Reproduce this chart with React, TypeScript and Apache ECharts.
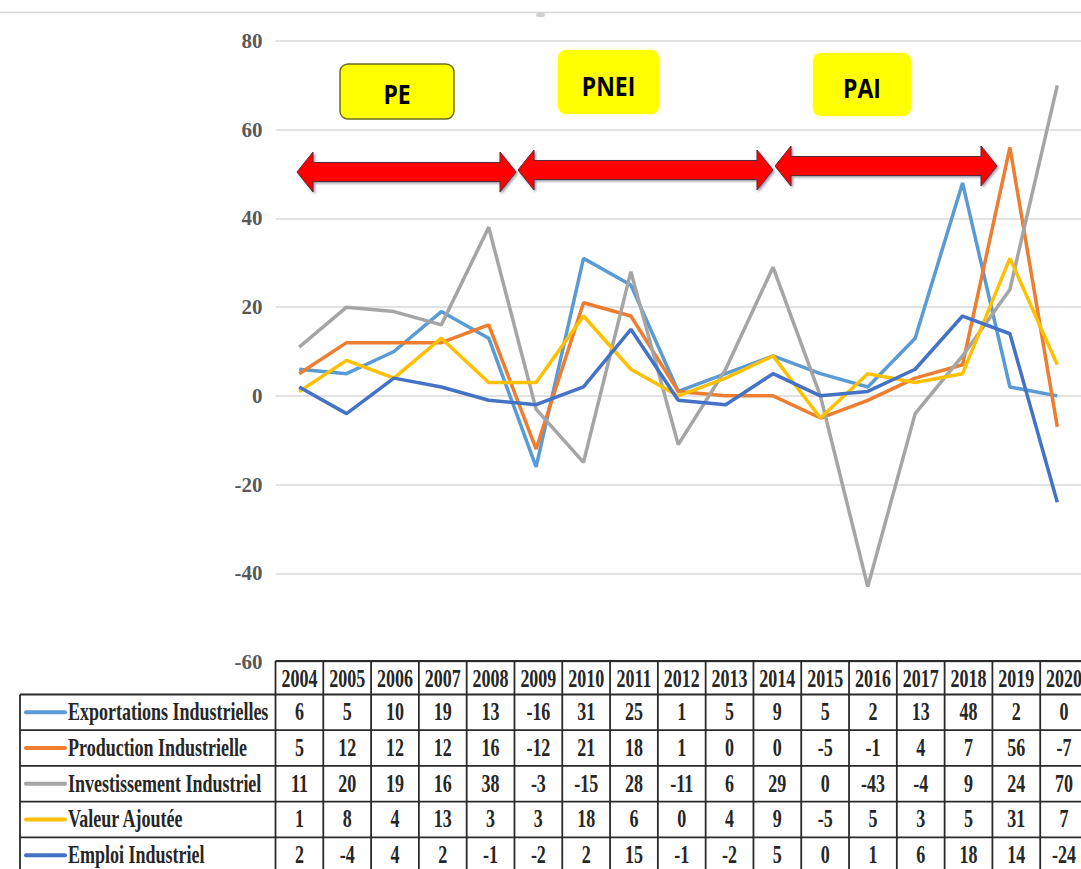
import React, { useEffect, useRef } from "react";
import * as echarts from "echarts";

const years = ["2004", "2005", "2006", "2007", "2008", "2009", "2010", "2011", "2012", "2013", "2014", "2015", "2016", "2017", "2018", "2019", "2020"];
const exportations = [6, 5, 10, 19, 13, -16, 31, 25, 1, 5, 9, 5, 2, 13, 48, 2, 0];
const production = [5, 12, 12, 12, 16, -12, 21, 18, 1, 0, 0, -5, -1, 4, 7, 56, -7];
const investissement = [11, 20, 19, 16, 38, -3, -15, 28, -11, 6, 29, 0, -43, -4, 9, 24, 70];
const valeur = [1, 8, 4, 13, 3, 3, 18, 6, 0, 4, 9, -5, 5, 3, 5, 31, 7];
const emploi = [2, -4, 4, 2, -1, -2, 2, 15, -1, -2, 5, 0, 1, 6, 18, 14, -24];
const seriesNames = ["Exportations Industrielles", "Production Industrielle", "Investissement Industriel", "Valeur Ajoutée", "Emploi Industriel"];
const seriesValues = [exportations, production, investissement, valeur, emploi];
const colors = ["#5B9BD5", "#ED7D31", "#A5A5A5", "#FFC000", "#4472C4"];
const yMin = -60;
const yMax = 80;
const yStep = 20;
const periods = ["PE", "PNEI", "PAI"];

const W = 1081;
const H = 869;
const gridLeft = 275.5;
const gridRight = -7;
const gridTop = 41;
const gridBottom = H - 662;
const colW = (W - gridRight - gridLeft) / years.length;
const tableTop = 661;
const headerH = 33.5;
const rowH = 35.7;
const tableLeft = 20;
const tableRight = gridLeft + colW * years.length;
const tableBottom = tableTop + headerH + seriesNames.length * rowH;

const serifFont = "'Liberation Serif', 'Times New Roman', serif";
const textFill = "#262626";
const borderColor = "#2a2a2a";

function arrowPoints(x1: number, x2: number, yc: number, shaftH: number, headH: number, headL: number) {
  return [
    [x1, yc],
    [x1 + headL, yc - headH / 2],
    [x1 + headL, yc - shaftH / 2],
    [x2 - headL, yc - shaftH / 2],
    [x2 - headL, yc - headH / 2],
    [x2, yc],
    [x2 - headL, yc + headH / 2],
    [x2 - headL, yc + shaftH / 2],
    [x1 + headL, yc + shaftH / 2],
    [x1 + headL, yc + headH / 2],
  ];
}

function tableText(text: string, x: number, y: number, align: string) {
  return {
    type: "text",
    x,
    y,
    scaleX: 0.72,
    z: 20,
    style: {
      text,
      fill: textFill,
      fontFamily: serifFont,
      fontWeight: "bold",
      fontSize: 25,
      align,
      textAlign: align,
      verticalAlign: "middle",
      textVerticalAlign: "middle",
    },
  };
}

function buildGraphics() {
  const g: any[] = [];
  // top border line
  g.push({ type: "line", shape: { x1: 0, y1: 12.5, x2: W, y2: 12.5 }, style: { stroke: "#d6d6d6", lineWidth: 1.5 }, silent: true });
  g.push({ type: "rect", shape: { x: 536, y: 13, width: 9, height: 4, r: 2 }, style: { fill: "#d0d0d0" }, silent: true });

  // table lines
  const lineStyle = { stroke: borderColor, lineWidth: 1.8 };
  g.push({ type: "line", shape: { x1: gridLeft, y1: tableTop, x2: tableRight, y2: tableTop }, style: lineStyle, z: 15 });
  for (let i = 0; i <= seriesNames.length; i++) {
    const y = tableTop + headerH + i * rowH;
    g.push({ type: "line", shape: { x1: tableLeft, y1: y, x2: tableRight, y2: y }, style: lineStyle, z: 15 });
  }
  g.push({ type: "line", shape: { x1: tableLeft, y1: tableTop + headerH, x2: tableLeft, y2: tableBottom }, style: lineStyle, z: 15 });
  for (let k = 0; k <= years.length; k++) {
    const x = gridLeft + k * colW;
    g.push({ type: "line", shape: { x1: x, y1: tableTop, x2: x, y2: tableBottom }, style: lineStyle, z: 15 });
  }
  // header
  years.forEach((yr, k) => {
    g.push(tableText(yr, gridLeft + (k + 0.5) * colW, tableTop + headerH / 2 + 1, "center"));
  });
  // rows
  seriesNames.forEach((name, i) => {
    const yc = tableTop + headerH + (i + 0.5) * rowH;
    g.push({ type: "line", shape: { x1: 26, y1: yc, x2: 65, y2: yc }, style: { stroke: colors[i], lineWidth: 4, lineCap: "round" }, z: 20 });
    g.push(tableText(name, 68, yc, "left"));
    seriesValues[i].forEach((v, k) => {
      g.push(tableText(String(v), gridLeft + (k + 0.5) * colW, yc, "center"));
    });
  });

  // arrows
  const arrows = [
    [297, 516, 172],
    [518, 773, 170],
    [775, 997, 166],
  ];
  arrows.forEach(([x1, x2, yc]) => {
    g.push({
      type: "polygon",
      shape: { points: arrowPoints(x1, x2, yc, 19, 40, 16) },
      style: { fill: "#FF0000", stroke: "#5a2a3a", lineWidth: 1, shadowColor: "rgba(60,60,90,0.55)", shadowBlur: 2, shadowOffsetX: 1.5, shadowOffsetY: 1.5 },
      z: 10,
    });
  });

  // period boxes
  const boxes = [
    { x: 340, y: 64, w: 114, h: 55, stroke: "#6b6b22", ty: 93 },
    { x: 558, y: 50, w: 101, h: 64, stroke: null, ty: 85 },
    { x: 813, y: 53, w: 98, h: 63, stroke: null, ty: 87 },
  ];
  boxes.forEach((b, i) => {
    g.push({
      type: "rect",
      shape: { x: b.x, y: b.y, width: b.w, height: b.h, r: 8 },
      style: b.stroke ? { fill: "#FFFF00", stroke: b.stroke, lineWidth: 1.5 } : { fill: "#FFFF00", shadowColor: "rgba(255,255,0,0.4)", shadowBlur: 4 },
      z: 10,
    });
    g.push({
      type: "text",
      x: b.x + b.w / 2,
      y: b.ty,
      scaleX: 0.85,
      z: 11,
      style: {
        text: periods[i],
        fill: "#000",
        fontFamily: "'Open Sans', sans-serif",
        fontWeight: "bold",
        fontSize: 27,
        align: "center",
        textAlign: "center",
        verticalAlign: "middle",
        textVerticalAlign: "middle",
      },
    });
  });
  return g;
}

export default function App() {
  const ref = useRef<HTMLDivElement>(null);
  useEffect(() => {
    if (!ref.current) return;
    const chart = echarts.init(ref.current, null, { renderer: "svg" });
    chart.setOption({
      animation: false,
      backgroundColor: "#ffffff",
      grid: { left: gridLeft, right: gridRight, top: gridTop, bottom: gridBottom, containLabel: false },
      xAxis: {
        type: "category",
        data: years,
        boundaryGap: true,
        axisLine: { show: false },
        axisTick: { show: false },
        axisLabel: { show: false },
        splitLine: { show: false },
      },
      yAxis: {
        type: "value",
        min: yMin,
        max: yMax,
        interval: yStep,
        axisLine: { show: false },
        axisTick: { show: false },
        axisLabel: {
          color: "#595959",
          fontFamily: serifFont,
          fontWeight: "bold",
          fontSize: 21,
          margin: 13,
        },
        splitLine: { lineStyle: { color: "#d9d9d9", width: 1.5 } },
      },
      series: seriesNames.map((name, i) => ({
        name,
        type: "line",
        data: seriesValues[i],
        symbol: "none",
        lineStyle: { color: colors[i], width: 3.5 },
        itemStyle: { color: colors[i] },
        z: 2 + i * 0.01,
      })),
      graphic: buildGraphics(),
    });
    return () => chart.dispose();
  }, []);
  return <div ref={ref} style={{ position: "fixed", left: 0, top: 0, width: W, height: H }} />;
}
